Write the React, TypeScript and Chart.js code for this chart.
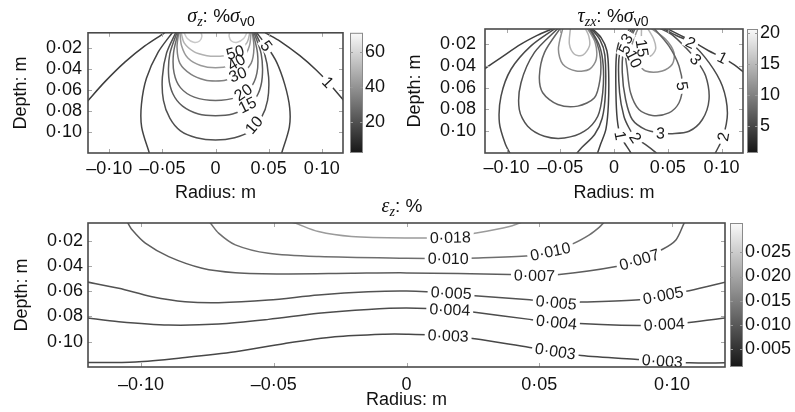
import React, { useEffect, useRef } from 'react';
import { Chart, registerables } from 'chart.js';

Chart.register(...registerables);

type Pt = [number, number];

const SANS = '"Liberation Sans", Arial, Helvetica, sans-serif';
const SERIF = '"Liberation Serif", "DejaVu Serif", "Times New Roman", serif';

// ---------- shared axes ----------
const xTicks = [-0.1, -0.05, 0, 0.05, 0.1];
const yTicks = [0.02, 0.04, 0.06, 0.08, 0.1];
const xRange: [number, number] = [-0.12, 0.12];
const yRange: [number, number] = [0.006, 0.12];

// ---------- sigma_z (% sigma_v0) ----------
const szCbTicks = [20, 40, 60];
const szCbRange: [number, number] = [2.7, 70.7];
const sz1L: Pt[] = [[-0.121, 0.0714], [-0.104, 0.0523], [-0.0853, 0.0338], [-0.0665, 0.0184], [-0.048, 0.006], [-0.047, 0.005]];
const sz1R: Pt[] = [[0.046, 0.005], [0.047, 0.006], [0.0606, 0.0138], [0.0794, 0.0277], [0.095, 0.0415], [0.1059, 0.0529], [0.121, 0.0705]];
const sz5L: Pt[] = [[-0.040, 0.005], [-0.0541, 0.0246], [-0.065, 0.0492], [-0.0697, 0.0738], [-0.0695, 0.0954], [-0.062, 0.121]];
const sz5R: Pt[] = [[0.038, 0.005], [0.0481, 0.0184], [0.0575, 0.0338], [0.0653, 0.0554], [0.0698, 0.0769], [0.0695, 0.0954], [0.062, 0.121]];
const sz10: Pt[] = [[-0.037, 0.005], [-0.046, 0.025], [-0.050, 0.048], [-0.049, 0.070], [-0.043, 0.087], [-0.033, 0.099], [-0.018, 0.1055], [0, 0.1077], [0.018, 0.1055], [0.033, 0.099], [0.043, 0.087], [0.049, 0.070], [0.050, 0.048], [0.046, 0.025], [0.037, 0.005]];
const sz15: Pt[] = [[-0.036, 0.005], [-0.043, 0.026], [-0.044, 0.048], [-0.040, 0.064], [-0.031, 0.0755], [-0.016, 0.083], [0, 0.0846], [0.016, 0.083], [0.031, 0.0755], [0.040, 0.064], [0.044, 0.048], [0.043, 0.026], [0.036, 0.005]];
const sz20: Pt[] = [[-0.035, 0.005], [-0.0395, 0.025], [-0.039, 0.044], [-0.033, 0.058], [-0.020, 0.067], [0, 0.0702], [0.020, 0.067], [0.033, 0.058], [0.039, 0.044], [0.0395, 0.025], [0.035, 0.005]];
const sz30: Pt[] = [[-0.0345, 0.005], [-0.0362, 0.020], [-0.0335, 0.035], [-0.023, 0.0455], [-0.010, 0.0508], [0, 0.0517], [0.010, 0.0508], [0.023, 0.0455], [0.0335, 0.035], [0.0362, 0.020], [0.0345, 0.005]];
const sz40: Pt[] = [[-0.0335, 0.005], [-0.032, 0.018], [-0.026, 0.030], [-0.014, 0.037], [0, 0.0391], [0.014, 0.037], [0.026, 0.030], [0.032, 0.018], [0.0335, 0.005]];
const sz50: Pt[] = [[-0.0325, 0.005], [-0.0295, 0.0155], [-0.020, 0.024], [-0.008, 0.0277], [0, 0.0283], [0.008, 0.0277], [0.019, 0.0245], [0.0295, 0.0155], [0.0325, 0.005]];
const sz60L: Pt[] = [[-0.030, 0.005], [-0.0265, 0.0115], [-0.0205, 0.015], [-0.015, 0.0138], [-0.0128, 0.0092], [-0.014, 0.005]];
const sz60R: Pt[] = [[0.0135, 0.005], [0.0128, 0.0092], [0.015, 0.0138], [0.0205, 0.015], [0.0265, 0.0115], [0.030, 0.005]];
const szContours = [
  { level: 1, pts: sz1L }, { level: 1, pts: sz1R }, { level: 5, pts: sz5L }, { level: 5, pts: sz5R },
  { level: 10, pts: sz10 }, { level: 15, pts: sz15 }, { level: 20, pts: sz20 }, { level: 30, pts: sz30 },
  { level: 40, pts: sz40 }, { level: 50, pts: sz50 }, { level: 60, pts: sz60L }, { level: 60, pts: sz60R },
];
const szLabels = [
  { text: '50', x: 0.0185, y: 0.0246 }, { text: '40', x: 0.0195, y: 0.0338 }, { text: '30', x: 0.021, y: 0.0455 },
  { text: '20', x: 0.026, y: 0.0625 }, { text: '15', x: 0.030, y: 0.0745 }, { text: '10', x: 0.036, y: 0.0935 },
  { text: '5', x: 0.0481, y: 0.0184 }, { text: '1', x: 0.1059, y: 0.0529 },
];

// ---------- tau_zx (% sigma_v0) ----------
const tzCbTicks = [5, 10, 15, 20];
const tzCbRange: [number, number] = [0.7, 20.6];
const tz1oR: Pt[] = [[0.048, 0.005], [0.060, 0.011], [0.075, 0.0185], [0.088, 0.026], [0.1008, 0.0323], [0.112, 0.039], [0.121, 0.046]];
const tz1iR: Pt[] = [[0.0154, 0.005], [0.010, 0.011], [0.0045, 0.0184], [0.002, 0.0338], [0.0018, 0.0646], [0.003, 0.089], [0.006, 0.104], [0.0154, 0.1194], [0.017, 0.122]];
const tz2oR: Pt[] = [[0.045, 0.005], [0.058, 0.012], [0.0713, 0.0184], [0.0884, 0.0369], [0.1008, 0.0585], [0.1055, 0.0831], [0.1015, 0.105], [0.0946, 0.1194], [0.093, 0.122]];
const tz2iR: Pt[] = [[0.017, 0.005], [0.0077, 0.020], [0.0045, 0.0338], [0.0052, 0.0646], [0.0092, 0.0862], [0.014, 0.097], [0.020, 0.106], [0.0294, 0.1123], [0.0387, 0.1194], [0.041, 0.122]];
const tz3R: Pt[] = [[0.042, 0.005], [0.055, 0.012], [0.0666, 0.0231], [0.076, 0.0338], [0.0853, 0.0492], [0.0884, 0.0708], [0.0822, 0.0892], [0.0698, 0.100], [0.0542, 0.1022], [0.0433, 0.1016], [0.0294, 0.0985], [0.017, 0.0892], [0.0108, 0.0708], [0.0077, 0.0461], [0.0092, 0.0246], [0.0185, 0.005]];
const tz5R: Pt[] = [[0.037, 0.005], [0.051, 0.0215], [0.0605, 0.040], [0.0636, 0.0585], [0.0605, 0.0738], [0.051, 0.0831], [0.0356, 0.0855], [0.0232, 0.080], [0.0154, 0.0646], [0.0123, 0.043], [0.0108, 0.025], [0.020, 0.005]];
const tz10R: Pt[] = [[0.034, 0.005], [0.048, 0.0154], [0.0558, 0.0277], [0.0542, 0.0384], [0.0449, 0.0446], [0.0294, 0.0446], [0.0216, 0.0369], [0.018, 0.030], [0.0165, 0.0215], [0.0225, 0.005]];
const tz15R: Pt[] = [[0.031, 0.005], [0.037, 0.0154], [0.0387, 0.0246], [0.034, 0.0308], [0.0279, 0.0292], [0.0256, 0.0154], [0.0256, 0.005]];
const tz1oL: Pt[] = [[-0.121, 0.043], [-0.1051, 0.0323], [-0.0865, 0.020], [-0.071, 0.0117], [-0.058, 0.006], [-0.056, 0.005]];
const tz1iL: Pt[] = [[-0.021, 0.005], [-0.012, 0.014], [-0.0066, 0.026], [-0.005, 0.045], [-0.0052, 0.075], [-0.0075, 0.098], [-0.0125, 0.112], [-0.016, 0.122]];
const tz2oL: Pt[] = [[-0.054, 0.005], [-0.0772, 0.0215], [-0.0958, 0.043], [-0.1051, 0.0677], [-0.1066, 0.0923], [-0.101, 0.112], [-0.0958, 0.122]];
const tz2iL: Pt[] = [[-0.022, 0.005], [-0.013, 0.016], [-0.0085, 0.030], [-0.008, 0.065], [-0.011, 0.088], [-0.018, 0.103], [-0.030, 0.115], [-0.036, 0.122]];
const tz3L: Pt[] = [[-0.0517, 0.005], [-0.0741, 0.0277], [-0.0865, 0.0554], [-0.0881, 0.080], [-0.0803, 0.0954], [-0.0648, 0.1046], [-0.0461, 0.1062], [-0.0275, 0.100], [-0.0151, 0.0862], [-0.0105, 0.0646], [-0.010, 0.040], [-0.0135, 0.0215], [-0.0225, 0.005]];
const tz5L: Pt[] = [[-0.0498, 0.005], [-0.0647, 0.0277], [-0.0694, 0.0492], [-0.0663, 0.0646], [-0.0523, 0.0754], [-0.0337, 0.0769], [-0.0182, 0.0692], [-0.013, 0.0523], [-0.0125, 0.0338], [-0.016, 0.0184], [-0.0235, 0.005]];
const tz10L: Pt[] = [[-0.0476, 0.005], [-0.0517, 0.0246], [-0.0476, 0.0384], [-0.0352, 0.0446], [-0.0228, 0.043], [-0.0165, 0.0338], [-0.0175, 0.0184], [-0.025, 0.005]];
const tz15L: Pt[] = [[-0.0405, 0.005], [-0.0415, 0.020], [-0.0368, 0.0292], [-0.029, 0.0301], [-0.0228, 0.0215], [-0.0235, 0.0123], [-0.027, 0.005]];
const tzContours = [
  { level: 1, pts: tz1oL }, { level: 1, pts: tz1iL }, { level: 2, pts: tz2oL }, { level: 2, pts: tz2iL },
  { level: 3, pts: tz3L }, { level: 5, pts: tz5L }, { level: 10, pts: tz10L }, { level: 15, pts: tz15L },
  { level: 1, pts: tz1oR }, { level: 1, pts: tz1iR }, { level: 2, pts: tz2oR }, { level: 2, pts: tz2iR },
  { level: 3, pts: tz3R }, { level: 5, pts: tz5R }, { level: 10, pts: tz10R }, { level: 15, pts: tz15R },
];
const tzLabels = [
  { text: '1', x: 0.1008, y: 0.0323 }, { text: '2', x: 0.0713, y: 0.0184 }, { text: '3', x: 0.076, y: 0.0338 },
  { text: '5', x: 0.0636, y: 0.0585 }, { text: '3', x: 0.0433, y: 0.1016 }, { text: '2', x: 0.1015, y: 0.105 },
  { text: '1', x: 0.006, y: 0.104 }, { text: '2', x: 0.020, y: 0.106 }, { text: '10', x: 0.0185, y: 0.0335 },
  { text: '15', x: 0.0262, y: 0.0235 }, { text: '3', x: 0.0118, y: 0.0148 }, { text: '5', x: 0.0098, y: 0.0245 },
];

// ---------- epsilon_z (%) ----------
const ezCbTicks = [0.005, 0.01, 0.015, 0.02, 0.025];
const ezCbRange: [number, number] = [0.0014, 0.031];
const ez018: Pt[] = [[-0.044, 0.005], [-0.042, 0.006], [-0.0332, 0.0128], [-0.0207, 0.0167], [0, 0.0178], [0.0165, 0.0172], [0.0263, 0.014], [0.0388, 0.0088], [0.0426, 0.006], [0.044, 0.005]];
const ez010: Pt[] = [[-0.0745, 0.005], [-0.0739, 0.006], [-0.0708, 0.014], [-0.0645, 0.0233], [-0.052, 0.030], [-0.033, 0.0326], [0, 0.0339], [0.0157, 0.0341], [0.0232, 0.0339], [0.0464, 0.032], [0.0542, 0.0285], [0.0626, 0.0225], [0.0689, 0.0154], [0.0727, 0.0093], [0.0742, 0.006], [0.0746, 0.005]];
const ez007: Pt[] = [[-0.1055, 0.005], [-0.105, 0.006], [-0.1034, 0.0114], [-0.0984, 0.022], [-0.0896, 0.0326], [-0.077, 0.0418], [-0.0645, 0.0453], [-0.0458, 0.0463], [-0.0207, 0.0458], [0, 0.0455], [0.0388, 0.0468], [0.0482, 0.0472], [0.0576, 0.0468], [0.079, 0.0405], [0.0877, 0.035], [0.0965, 0.0268], [0.1015, 0.0194], [0.1046, 0.0061], [0.105, 0.005]];
const ez005: Pt[] = [[-0.121, 0.0524], [-0.1084, 0.0577], [-0.0959, 0.0643], [-0.0834, 0.0683], [-0.0708, 0.0691], [-0.052, 0.067], [-0.0332, 0.063], [-0.0144, 0.0604], [0, 0.0598], [0.0168, 0.0615], [0.0257, 0.0635], [0.0464, 0.0668], [0.0564, 0.0688], [0.0663, 0.0686], [0.0877, 0.0668], [0.0967, 0.0632], [0.1065, 0.0596], [0.121, 0.0524]];
const ez004: Pt[] = [[-0.121, 0.081], [-0.1084, 0.0842], [-0.0896, 0.0868], [-0.0708, 0.086], [-0.052, 0.0823], [-0.0332, 0.0775], [-0.0144, 0.0744], [0, 0.0733], [0.0163, 0.0745], [0.025, 0.0765], [0.0464, 0.0823], [0.0565, 0.0845], [0.0877, 0.0872], [0.0971, 0.0862], [0.1065, 0.0847], [0.121, 0.081]];
const ez003: Pt[] = [[-0.121, 0.1165], [-0.1021, 0.116], [-0.0834, 0.1125], [-0.0645, 0.108], [-0.0458, 0.1014], [-0.027, 0.0961], [-0.0082, 0.094], [0, 0.094], [0.0157, 0.0952], [0.0257, 0.0977], [0.0464, 0.1045], [0.0561, 0.1075], [0.0658, 0.1109], [0.0871, 0.114], [0.0964, 0.1152], [0.1065, 0.1167], [0.121, 0.1167]];
const ezContours = [
  { level: 0.018, pts: ez018 }, { level: 0.010, pts: ez010 }, { level: 0.007, pts: ez007 },
  { level: 0.005, pts: ez005 }, { level: 0.004, pts: ez004 }, { level: 0.003, pts: ez003 },
];
const ezLabels = [
  { text: '0·018', x: 0.0165, y: 0.0174 }, { text: '0·010', x: 0.0157, y: 0.0341 }, { text: '0·010', x: 0.0542, y: 0.0285 },
  { text: '0·007', x: 0.0482, y: 0.0475 }, { text: '0·007', x: 0.0877, y: 0.035 },
  { text: '0·005', x: 0.0168, y: 0.0613 }, { text: '0·005', x: 0.0564, y: 0.0690 }, { text: '0·005', x: 0.0967, y: 0.0632 },
  { text: '0·004', x: 0.0163, y: 0.0745 }, { text: '0·004', x: 0.0565, y: 0.0845 }, { text: '0·004', x: 0.0971, y: 0.0862 },
  { text: '0·003', x: 0.0157, y: 0.0952 }, { text: '0·003', x: 0.0561, y: 0.1075 }, { text: '0·003', x: 0.0964, y: 0.1152 },
];

// ---------- helpers ----------
type Seg = { t: string; f: string; dy?: number };
type PanelCfg = {
  left: number; top: number; w: number; h: number;
  pad: { left: number; right: number; top: number; bottom: number };
  yAxisW: number; xAxisH: number; cbAxisW: number;
  xTickPad: number; yTickPad: number; yTitlePad: number; cbTickPad: number;
  cbGap: number; cbWidth: number; cbDec: number;
  cbTicks: number[]; cbRange: [number, number];
  contours: { level: number; pts: Pt[] }[];
  labels: { text: string; x: number; y: number }[];
  title: { cx: number; base: number; segs: Seg[] };
};

const fmt = (v: number, dec: number) => {
  if (Math.abs(v) < 1e-12) return '0';
  return (v < 0 ? '–' : '') + Math.abs(v).toFixed(dec).replace('.', '·');
};

const lineGray = (v: number, r: [number, number]) => {
  const t = Math.max(0, Math.min(1, (v - r[0]) / (r[1] - r[0])));
  const g = Math.round(62 + 165 * t);
  return `rgb(${g},${g},${g})`;
};

const fSerifI = `italic 20px ${SERIF}`;
const fSubI = `italic 14px ${SERIF}`;
const fSans = `19px ${SANS}`;
const fSub = `14px ${SANS}`;

function makePlugin(p: PanelCfg) {
  return {
    id: 'panelDecor',
    afterDatasetsDraw(chart: any) {
      const { ctx, chartArea: a, scales } = chart;
      const sx = scales.x, sy = scales.y, cb = scales.cb;
      const polys: number[][][] = chart.data.datasets.map((d: any) =>
        d.data.map((q: any) => [sx.getPixelForValue(q.x), sy.getPixelForValue(q.y)]));
      // contour labels: compute placement along the nearest line
      ctx.save();
      ctx.beginPath(); ctx.rect(a.left, a.top, a.right - a.left, a.bottom - a.top); ctx.clip();
      ctx.font = `16px ${SANS}`;
      ctx.textAlign = 'center'; ctx.textBaseline = 'middle';
      const placed = p.labels.map((L) => {
        const px = sx.getPixelForValue(L.x), py = sy.getPixelForValue(L.y);
        let best = Infinity, ang = 0;
        for (const poly of polys) {
          for (let i = 0; i < poly.length - 1; i++) {
            const [x1, y1] = poly[i], [x2, y2] = poly[i + 1];
            const dx = x2 - x1, dy = y2 - y1; const l2 = dx * dx + dy * dy || 1;
            let t = ((px - x1) * dx + (py - y1) * dy) / l2; t = Math.max(0, Math.min(1, t));
            const qx = x1 + t * dx - px, qy = y1 + t * dy - py; const d = qx * qx + qy * qy;
            if (d < best) { best = d; ang = Math.atan2(dy, dx); }
          }
        }
        if (ang > Math.PI / 2) ang -= Math.PI;
        if (ang < -Math.PI / 2) ang += Math.PI;
        return { text: L.text, px, py, ang, w: ctx.measureText(L.text).width };
      });
      for (const q of placed) {
        ctx.save(); ctx.translate(q.px, q.py); ctx.rotate(q.ang);
        ctx.fillStyle = '#ffffff'; ctx.fillRect(-q.w / 2 - 3, -6, q.w + 6, 12);
        ctx.restore();
      }
      for (const q of placed) {
        ctx.save(); ctx.translate(q.px, q.py); ctx.rotate(q.ang);
        ctx.fillStyle = '#1a1a1a'; ctx.fillText(q.text, 0, 1);
        ctx.restore();
      }
      ctx.restore();
      // inward ticks
      ctx.save();
      ctx.strokeStyle = '#a8a8a8'; ctx.lineWidth = 1;
      ctx.beginPath();
      for (const v of xTicks) {
        const x = Math.round(sx.getPixelForValue(v)) + 0.5;
        ctx.moveTo(x, a.bottom); ctx.lineTo(x, a.bottom - 4);
        ctx.moveTo(x, a.top); ctx.lineTo(x, a.top + 4);
      }
      for (const v of yTicks) {
        const y = Math.round(sy.getPixelForValue(v)) + 0.5;
        ctx.moveTo(a.left, y); ctx.lineTo(a.left + 4, y);
        ctx.moveTo(a.right, y); ctx.lineTo(a.right - 4, y);
      }
      ctx.stroke();
      // box
      ctx.strokeStyle = '#4a4a4a'; ctx.lineWidth = 1.6;
      ctx.strokeRect(a.left, a.top, a.right - a.left, a.bottom - a.top);
      // colorbar
      const top = cb.getPixelForValue(cb.max), bot = cb.getPixelForValue(cb.min);
      const x0 = a.right + p.cbGap;
      const g = ctx.createLinearGradient(0, bot, 0, top);
      g.addColorStop(0, 'rgb(22,22,22)'); g.addColorStop(1, 'rgb(250,250,250)');
      ctx.fillStyle = g; ctx.fillRect(x0, top, p.cbWidth, bot - top);
      ctx.strokeStyle = '#8a8a8a'; ctx.lineWidth = 1;
      ctx.strokeRect(x0 + 0.5, top + 0.5, p.cbWidth - 1, bot - top - 1);
      ctx.beginPath();
      for (const v of p.cbTicks) {
        const y = Math.round(cb.getPixelForValue(v)) + 0.5;
        ctx.moveTo(x0, y); ctx.lineTo(x0 + 3, y);
        ctx.moveTo(x0 + p.cbWidth, y); ctx.lineTo(x0 + p.cbWidth - 3, y);
      }
      ctx.strokeStyle = '#9a9a9a'; ctx.stroke();
      ctx.restore();
    },
    afterDraw(chart: any) {
      const { ctx } = chart;
      ctx.save();
      ctx.fillStyle = '#111'; ctx.textAlign = 'left'; ctx.textBaseline = 'alphabetic';
      let total = 0;
      for (const s of p.title.segs) { ctx.font = s.f; total += ctx.measureText(s.t).width; }
      let x = p.title.cx - total / 2;
      for (const s of p.title.segs) {
        ctx.font = s.f; ctx.fillText(s.t, x, p.title.base + (s.dy || 0));
        x += ctx.measureText(s.t).width;
      }
      ctx.restore();
    },
  };
}

function makeConfig(p: PanelCfg): any {
  const tickFont = { family: SANS, size: 18 };
  const datasets = p.contours.map((c) => ({
    data: c.pts.map(([x, y]) => ({ x, y })),
    showLine: true, fill: false,
    borderColor: lineGray(c.level, p.cbRange),
    borderWidth: 1.5, pointRadius: 0, pointHoverRadius: 0, tension: 0.3,
  }));
  return {
    type: 'scatter',
    data: { datasets },
    options: {
      animation: false, responsive: false, maintainAspectRatio: false, events: [],
      layout: { padding: p.pad },
      plugins: { legend: { display: false }, tooltip: { enabled: false }, title: { display: false } },
      scales: {
        x: {
          type: 'linear', position: 'bottom', min: xRange[0], max: xRange[1],
          grid: { display: false, drawTicks: false }, border: { display: false },
          ticks: { autoSkip: false, maxRotation: 0, minRotation: 0, padding: p.xTickPad, color: '#111', font: tickFont,
            callback: (v: number) => fmt(v, 2) },
          afterBuildTicks: (s: any) => { s.ticks = xTicks.map((v) => ({ value: v })); },
          afterFit: (s: any) => { s.height = p.xAxisH; },
          title: { display: true, text: 'Radius: m', color: '#111', font: { family: SANS, size: 18, lineHeight: 1.2 }, padding: { top: 0, bottom: 0 } },
        },
        y: {
          type: 'linear', position: 'left', reverse: true, min: yRange[0], max: yRange[1],
          grid: { display: false, drawTicks: false }, border: { display: false },
          ticks: { autoSkip: false, padding: p.yTickPad, color: '#111', font: tickFont, callback: (v: number) => fmt(v, 2) },
          afterBuildTicks: (s: any) => { s.ticks = yTicks.map((v) => ({ value: v })); },
          afterFit: (s: any) => { s.width = p.yAxisW; },
          title: { display: true, text: 'Depth: m', color: '#111', font: { family: SANS, size: 18, lineHeight: 1.2 }, padding: { top: p.yTitlePad, bottom: 0 } },
        },
        cb: {
          type: 'linear', axis: 'y', position: 'right', min: p.cbRange[0], max: p.cbRange[1],
          grid: { display: false, drawTicks: false }, border: { display: false },
          ticks: { autoSkip: false, padding: p.cbTickPad, color: '#111', font: tickFont, callback: (v: number) => fmt(v, p.cbDec) },
          afterBuildTicks: (s: any) => { s.ticks = p.cbTicks.map((v) => ({ value: v })); },
          afterFit: (s: any) => { s.width = p.cbAxisW; },
        },
      },
    },
    plugins: [makePlugin(p)],
  };
}

const panels: PanelCfg[] = [
  {
    left: 0, top: 0, w: 397, h: 205, pad: { left: 0, right: 4, top: 29, bottom: 1 },
    yAxisW: 88, xAxisH: 51, cbAxisW: 50, xTickPad: 5, yTickPad: 6, yTitlePad: 10, cbTickPad: 22,
    cbGap: 7, cbWidth: 13, cbDec: 0, cbTicks: szCbTicks, cbRange: szCbRange,
    contours: szContours, labels: szLabels,
    title: { cx: 221, base: 21.5, segs: [
      { t: 'σ', f: fSerifI }, { t: 'z', f: fSubI, dy: 4 }, { t: ': %', f: fSans }, { t: 'σ', f: fSerifI }, { t: 'v0', f: fSub, dy: 4 },
    ] },
  },
  {
    left: 397, top: 0, w: 398, h: 205, pad: { left: 0, right: 4, top: 29, bottom: 1 },
    yAxisW: 88, xAxisH: 51, cbAxisW: 48, xTickPad: 4, yTickPad: 9, yTitlePad: 7, cbTickPad: 17,
    cbGap: 4, cbWidth: 11, cbDec: 0, cbTicks: tzCbTicks, cbRange: tzCbRange,
    contours: tzContours, labels: tzLabels,
    title: { cx: 216, base: 21.5, segs: [
      { t: 'τ', f: fSerifI }, { t: 'zx', f: fSubI, dy: 4 }, { t: ': %', f: fSans }, { t: 'σ', f: fSerifI }, { t: 'v0', f: fSub, dy: 4 },
    ] },
  },
  {
    left: 0, top: 190, w: 795, h: 222, pad: { left: 0, right: 2, top: 33, bottom: 1 },
    yAxisW: 88, xAxisH: 44, cbAxisW: 68, xTickPad: 7, yTickPad: 5, yTitlePad: 11, cbTickPad: 20,
    cbGap: 5, cbWidth: 13, cbDec: 3, cbTicks: ezCbTicks, cbRange: ezCbRange,
    contours: ezContours, labels: ezLabels,
    title: { cx: 402, base: 22, segs: [
      { t: 'ε', f: fSerifI }, { t: 'z', f: fSubI, dy: 4 }, { t: ': %', f: fSans },
    ] },
  },
];

function ContourPanel({ cfg }: { cfg: PanelCfg }) {
  const ref = useRef<HTMLCanvasElement | null>(null);
  useEffect(() => {
    if (!ref.current) return;
    const chart = new Chart(ref.current, makeConfig(cfg));
    return () => chart.destroy();
  }, [cfg]);
  return (
    <canvas
      ref={ref}
      width={cfg.w}
      height={cfg.h}
      style={{ position: 'absolute', left: cfg.left, top: cfg.top, width: cfg.w, height: cfg.h }}
    />
  );
}

export default function App() {
  return (
    <div style={{ position: 'fixed', left: 0, top: 0, width: 795, height: 412, background: '#fff', overflow: 'hidden' }}>
      {panels.map((p, i) => (
        <ContourPanel key={i} cfg={p} />
      ))}
    </div>
  );
}
